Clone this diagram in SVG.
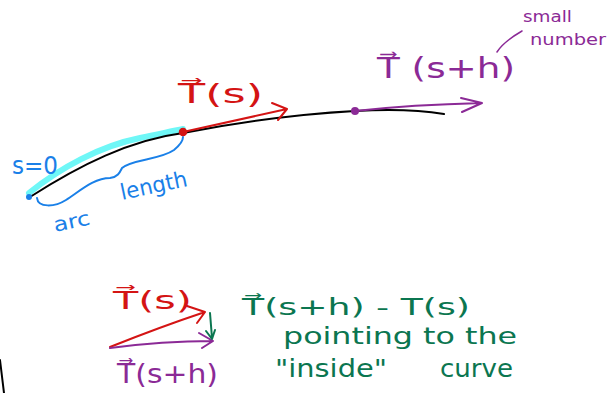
<svg xmlns="http://www.w3.org/2000/svg" width="612" height="393" viewBox="0 0 612 393">
<style>
.t{font-family:"DejaVu Sans","Liberation Sans",sans-serif;}
.red{fill:#d41414}.pur{fill:#8b2a96}.blu{fill:#1a80e8}.grn{fill:#0b7650}
.ln{fill:none;stroke-linecap:round;stroke-linejoin:round}
.sr{stroke:#d41414}.sp{stroke:#8b2a96}.sb{stroke:#1a80e8}.sg{stroke:#0b7650}
</style>
<rect width="612" height="393" fill="#fff"/>
<g id="curve">
<path class="ln" d="M29,193 C60,168 100,146 140,138 C160,134 172,131 183,129" stroke="#6ff7f7" stroke-width="6"/>
<path class="ln" d="M30,197 C80,165 130,140 183,133 C240,122 300,114 355,111 C390,109 420,110 444,114" stroke="#000" stroke-width="2"/>
<circle cx="29" cy="197" r="3" fill="#1a80e8"/>
</g>
<g id="s0"><text class="t blu" x="12" y="174" font-size="24" textLength="46" lengthAdjust="spacingAndGlyphs">s=0</text></g>
<g id="arclength">
<path class="ln sb" stroke-width="2" d="M37,198 C38,208 55,207 66,200 C80,191 94,178 110,178 C118,177 120,172 122,168 C132,159 160,160 174,150 C180,145 183,140 183,137"/>
<text class="t blu" x="55" y="232" font-size="20" textLength="37" lengthAdjust="spacingAndGlyphs" transform="rotate(-12 55 232)">arc</text>
<text class="t blu" x="122" y="200" font-size="22" textLength="68" lengthAdjust="spacingAndGlyphs" transform="rotate(-12 122 200)">length</text>
</g>
<g id="Ts">
<circle cx="183" cy="132" r="3.5" fill="#d41414" stroke="#d41414" stroke-width="1.5"/>
<text class="t red" x="178" y="103" font-size="26" textLength="85" lengthAdjust="spacingAndGlyphs">T⃗(s)</text>
</g>
<g id="Tsh">
<circle cx="355" cy="111" r="4" fill="#8b2a96"/>
<text class="t pur" x="377" y="78" font-size="28" textLength="138" lengthAdjust="spacingAndGlyphs">T⃗ (s+h)</text>
</g>
<g id="small">
<text class="t pur" x="523" y="22" font-size="15" textLength="49" lengthAdjust="spacingAndGlyphs">small</text>
<text class="t pur" x="530" y="45" font-size="15" textLength="76" lengthAdjust="spacingAndGlyphs">number</text>
</g>
<g id="bottom-Ts"><text class="t red" x="113" y="309" font-size="25" textLength="79" lengthAdjust="spacingAndGlyphs">T⃗(s)</text></g>
<g id="bottom-Tsh"><text class="t pur" x="117" y="383" font-size="26" textLength="101" lengthAdjust="spacingAndGlyphs">T⃗(s+h)</text></g>
<g id="diff">
<text class="t grn" x="242" y="315" font-size="23" textLength="228" lengthAdjust="spacingAndGlyphs">T⃗(s+h) - T(s)</text>
<text class="t grn" x="283" y="344" font-size="23" textLength="234" lengthAdjust="spacingAndGlyphs">pointing to the</text>
<text class="t grn" x="275" y="377" font-size="24" textLength="112" lengthAdjust="spacingAndGlyphs">"inside"</text>
<text class="t grn" x="440" y="377" font-size="24" textLength="73" lengthAdjust="spacingAndGlyphs">curve</text>
</g>
<g id="connectors" class="ln" stroke-width="2">
<path class="sr" d="M183,132 L287,109 M272,103 L287,109 L278,120"/>
<path class="sp" d="M355,111 C400,106 440,104 482,103 M461,98 L482,103 L462,112"/>
<path class="sp" stroke-width="1.5" d="M522,31 C510,38 502,44 497,52"/>
<path class="sr" d="M110,347 C140,335 175,322 205,312 M187,306 L205,312 L197,323"/>
<path class="sp" d="M110,348 C140,344 180,341 213,341 M199,333 L213,341 L202,348"/>
<path class="sg" d="M210,313 L212,338 M206,331 L212,339 L215,330"/>
<path stroke="#000" d="M0,360 L4,393"/>
</g>
</svg>
